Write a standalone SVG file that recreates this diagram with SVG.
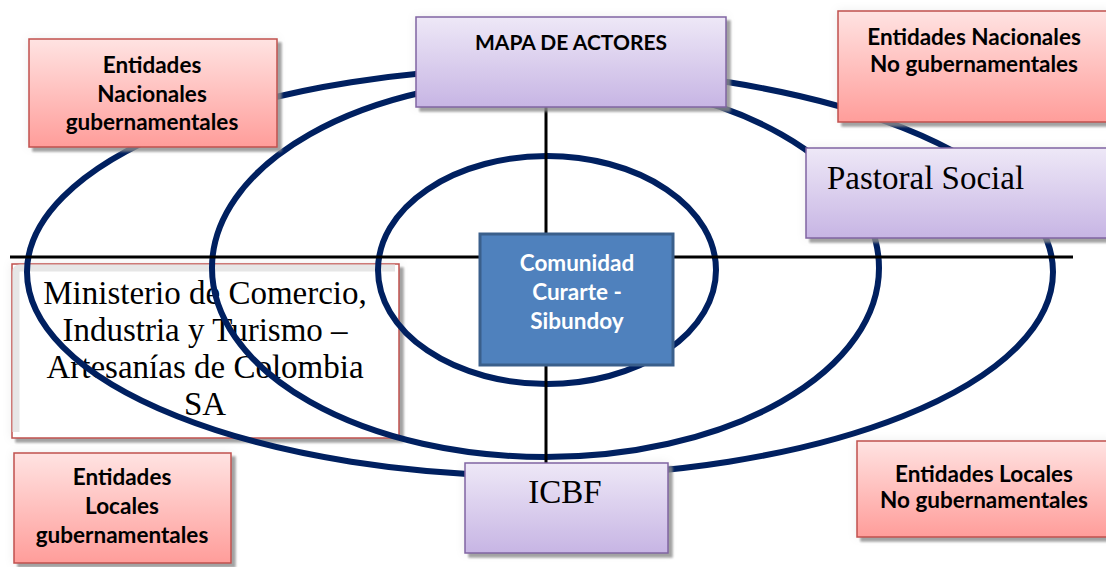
<svg xmlns="http://www.w3.org/2000/svg" width="1106" height="567" viewBox="0 0 1106 567">
<style>
.b{font-family:Lato,"Liberation Sans",sans-serif;font-weight:bold;font-size:22.5px;fill:#000;text-anchor:middle}
.w{fill:#fff}
.s{font-family:"Liberation Serif",serif;font-size:33px;fill:#000;text-anchor:middle}
.pink{fill:url(#gp);stroke:#c0504d;stroke-width:1.5}
.purp{fill:url(#gv);stroke:#8064a2;stroke-width:1.5}
.ell{fill:none;stroke:#002060;stroke-width:6}
.ax{stroke:#000;stroke-width:3}
</style>
<defs>
<linearGradient id="gp" x1="0" y1="0" x2="0" y2="1"><stop offset="0" stop-color="#ffe3e2"/><stop offset="1" stop-color="#ff9d9a"/></linearGradient>
<linearGradient id="gv" x1="0" y1="0" x2="0" y2="1"><stop offset="0" stop-color="#eee8f7"/><stop offset="1" stop-color="#c7b5e4"/></linearGradient>
<filter id="sh" x="-10%" y="-15%" width="125%" height="140%">
<feGaussianBlur in="SourceAlpha" stdDeviation="5" result="g"/>
<feFlood flood-color="#000" flood-opacity="0.07"/>
<feComposite in2="g" operator="in" result="halo"/>
<feGaussianBlur in="SourceAlpha" stdDeviation="1" result="b"/>
<feOffset in="b" dx="4" dy="4" result="o"/>
<feFlood flood-color="#8c8c8c" flood-opacity="0.8"/>
<feComposite in2="o" operator="in" result="sd"/>
<feMerge><feMergeNode in="halo"/><feMergeNode in="sd"/><feMergeNode in="SourceGraphic"/></feMerge>
</filter>
</defs>
<rect width="1106" height="567" fill="#fff"/>

<g id="ministerio">
<rect x="12" y="264" width="387" height="174" fill="#fff" stroke="#c0504d" stroke-width="1.5" filter="url(#sh)"/>
<path d="M16 432 V272 Q16 268 20 268 H395" fill="none" stroke="#e6e6e6" stroke-width="7"/>
<text class="s" x="205" y="304">Ministerio de Comercio,</text>
<text class="s" x="205" y="341">Industria y Turismo –</text>
<text class="s" x="205" y="378">Artesanías de Colombia</text>
<text class="s" x="205" y="415">SA</text>
</g>

<g id="connectors">
<ellipse class="ell" cx="540" cy="272" rx="513" ry="204"/>
<ellipse class="ell" cx="545.5" cy="268" rx="333.5" ry="189"/>
<ellipse class="ell" cx="547" cy="270" rx="169" ry="114"/>
<line class="ax" x1="10" y1="257" x2="1073" y2="257"/>
<line class="ax" x1="546" y1="107" x2="546" y2="463"/>
</g>

<g id="mapa">
<rect class="purp" x="416" y="17" width="310" height="90" filter="url(#sh)"/>
<text class="b" x="571" y="50" style="font-size:21px">MAPA DE ACTORES</text>
</g>

<g id="nac-gub">
<rect class="pink" x="29" y="39" width="248" height="108" filter="url(#sh)"/>
<text class="b" x="152" y="73">Entidades</text>
<text class="b" x="152" y="102">Nacionales</text>
<text class="b" x="152" y="130">gubernamentales</text>
</g>

<g id="nac-nogub">
<rect class="pink" x="838" y="11" width="272" height="111" filter="url(#sh)"/>
<text class="b" x="974" y="45">Entidades Nacionales</text>
<text class="b" x="974" y="72">No gubernamentales</text>
</g>

<g id="pastoral">
<rect class="purp" x="806" y="148" width="304" height="90" filter="url(#sh)"/>
<text class="s" x="827" y="189" style="text-anchor:start">Pastoral Social</text>
</g>

<g id="comunidad">
<rect x="480" y="234" width="193" height="131" fill="#4f81bd" stroke="#3a5f8b" stroke-width="3"/>
<text class="b w" x="577" y="271">Comunidad</text>
<text class="b w" x="577" y="300">Curarte -</text>
<text class="b w" x="577" y="329">Sibundoy</text>
</g>

<g id="icbf">
<rect class="purp" x="465" y="463" width="203" height="90" filter="url(#sh)"/>
<text class="s" x="565" y="503">ICBF</text>
</g>

<g id="loc-gub">
<rect class="pink" x="14" y="453" width="217" height="110" filter="url(#sh)"/>
<text class="b" x="122" y="485">Entidades</text>
<text class="b" x="122" y="514">Locales</text>
<text class="b" x="122" y="543">gubernamentales</text>
</g>

<g id="loc-nogub">
<rect class="pink" x="857" y="441" width="254" height="96" filter="url(#sh)"/>
<text class="b" x="984" y="482">Entidades Locales</text>
<text class="b" x="984" y="508">No gubernamentales</text>
</g>
</svg>
